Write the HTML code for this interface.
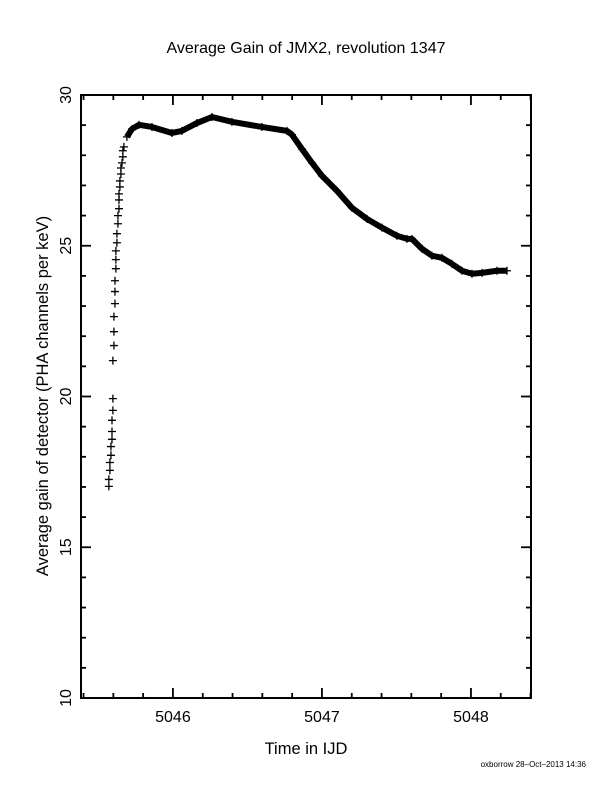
<!DOCTYPE html>
<html><head><meta charset="utf-8"><style>
html,body{margin:0;padding:0;background:#fff;}
svg{display:block;font-family:"Liberation Sans",sans-serif;}
</style></head><body>
<svg id="chart" width="612" height="792" viewBox="0 0 612 792" xmlns="http://www.w3.org/2000/svg">
<text x="306" y="53" font-size="16" text-anchor="middle">Average Gain of JMX2, revolution 1347</text>
<text transform="translate(48,396) rotate(-90)" font-size="16.5" text-anchor="middle">Average gain of detector (PHA channels per keV)</text>
<text x="306" y="754" font-size="16.5" text-anchor="middle">Time in IJD</text>
<text x="586" y="767" font-size="8" text-anchor="end">oxborrow 28–Oct–2013 14:36</text>
<rect x="81" y="95" width="450" height="603" fill="none" stroke="#000" stroke-width="2"/>
<g id="ticks"></g>
<g id="marks"></g>
</svg>
<script>
const riseTimes=[5045.570,5045.570,5045.577,5045.577,5045.584,5045.584,5045.591,5045.591,5045.591,5045.597,5045.597,5045.597,5045.604,5045.604,5045.604,5045.611,5045.611,5045.611,5045.617,5045.617,5045.617,5045.624,5045.624,5045.631,5045.631,5045.638,5045.638,5045.638,5045.644,5045.644,5045.651,5045.651,5045.658,5045.664,5045.664,5045.671];
const riseGains=[17.02,17.25,17.55,17.81,18.05,18.34,18.58,18.84,19.21,19.54,19.93,21.19,21.69,22.15,22.65,23.08,23.48,23.84,24.24,24.54,24.83,25.10,25.40,25.73,26.00,26.23,26.52,26.72,26.95,27.15,27.38,27.58,27.75,27.95,28.15,28.28];
const denseTimes=[5045.691,5045.725,5045.772,5045.859,5045.993,5046.060,5046.161,5046.262,5046.396,5046.597,5046.765,5046.799,5046.866,5046.933,5047.000,5047.101,5047.201,5047.302,5047.403,5047.503,5047.570,5047.604,5047.671,5047.738,5047.805,5047.872,5047.940,5048.007,5048.074,5048.175,5048.242];
const denseGains=[28.61,28.87,29.01,28.94,28.74,28.81,29.07,29.27,29.11,28.94,28.81,28.68,28.21,27.75,27.32,26.82,26.26,25.89,25.60,25.33,25.23,25.23,24.90,24.67,24.60,24.40,24.17,24.07,24.10,24.17,24.17];
const xTickLabels=["5046","5047","5048"];
const xTickValues=[5046,5047,5048];
const yTickLabels=["10","15","20","25","30"];
const yTickValues=[10,15,20,25,30];

const X0=81,X1=531,Y0=698,Y1=95,TMIN=5045.383,TMAX=5048.403,GMIN=10,GMAX=30;
function xs(t){return X0+(t-TMIN)/(TMAX-TMIN)*(X1-X0);}
function ys(g){return Y0-(g-GMIN)/(GMAX-GMIN)*(Y0-Y1);}
const NS="http://www.w3.org/2000/svg";
const tg=document.getElementById('ticks'),mg=document.getElementById('marks');
function line(p,x1,y1,x2,y2,w){const l=document.createElementNS(NS,'line');l.setAttribute('x1',x1);l.setAttribute('y1',y1);l.setAttribute('x2',x2);l.setAttribute('y2',y2);l.setAttribute('stroke','#000');l.setAttribute('stroke-width',w||1.5);p.appendChild(l);return l;}
// x ticks (minor every 0.2)
for(let i=0;i<16;i++){const t=5045.4+i*0.2;if(t>TMAX)break;const x=xs(t);const maj=Math.abs(t-Math.round(t))<1e-6;const L=maj?10:5;
const a=line(tg,x,Y0,x,Y0-L,1.8);


const b=line(tg,x,Y1,x,Y1+L,1.8);

}
for(let g=11;g<30;g++){const y=ys(g);const maj=g%5===0;const L=maj?10:5;
const a=line(tg,X0,y,X0+L,y,1.8);


const b=line(tg,X1,y,X1-L,y,1.8);

}
xTickValues.forEach((v,i)=>{const t=document.createElementNS(NS,'text');t.setAttribute('x',xs(v));t.setAttribute('y',722);t.setAttribute('font-size','16');t.setAttribute('text-anchor','middle');t.textContent=xTickLabels[i];


tg.appendChild(t);});
yTickValues.forEach((v,i)=>{const t=document.createElementNS(NS,'text');t.setAttribute('transform','translate(71,'+ys(v)+') rotate(-90)');t.setAttribute('font-size','16');t.setAttribute('text-anchor','middle');t.textContent=yTickLabels[i];


tg.appendChild(t);});
function plus(t,g){const x=xs(t),y=ys(g);const p=document.createElementNS(NS,'path');p.setAttribute('d','M'+(x-4)+' '+y+'H'+(x+4)+'M'+x+' '+(y-4)+'V'+(y+4));p.setAttribute('stroke','#000');p.setAttribute('stroke-width','1.3');


mg.appendChild(p);}
riseTimes.forEach((t,i)=>plus(t,riseGains[i]));
const pl=document.createElementNS(NS,'polyline');
pl.setAttribute('points',denseTimes.map((t,i)=>xs(t)+','+ys(denseGains[i])).join(' '));
pl.setAttribute('fill','none');pl.setAttribute('stroke','#000');pl.setAttribute('stroke-width','6');pl.setAttribute('stroke-linejoin','round');


mg.appendChild(pl);
denseTimes.forEach((t,i)=>plus(t,denseGains[i]));
</script>
</body></html>
